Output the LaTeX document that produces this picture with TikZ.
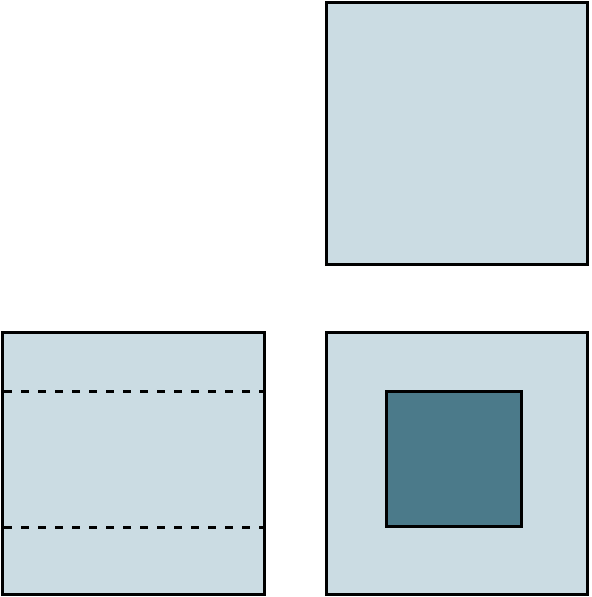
\documentclass[tikz,border=0pt]{standalone}
\usepackage{tikz}
\definecolor{paleblue}{HTML}{CBDCE3}
\definecolor{deepteal}{HTML}{4B7A8A}

\begin{document}
\begin{tikzpicture}[x=0.5pt,y=-0.5pt]
		\tikzstyle{sheet}=[draw=black,fill=paleblue,line width=1.5pt]
		\tikzstyle{core}=[draw=black,fill=deepteal,line width=1.5pt]
		\tikzstyle{fold}=[black,line width=1.5pt,dash pattern=on 4pt off 4.5pt]
		\useasboundingbox (0,0) rectangle (591,597);
		\draw [sheet] (326.5,2.5) rectangle (587.5,264.5);
		\draw [sheet] (2.5,332.5) rectangle (264.5,594.5);
		\draw [fold] (4,391) -- (263,391);
		\draw [fold] (4,527) -- (263,527);
		\draw [sheet] (326.5,332.5) rectangle (587.5,594.5);
		\draw [core] (386.5,391.5) rectangle (521.5,526.5);
	\end{tikzpicture}
\end{document}
